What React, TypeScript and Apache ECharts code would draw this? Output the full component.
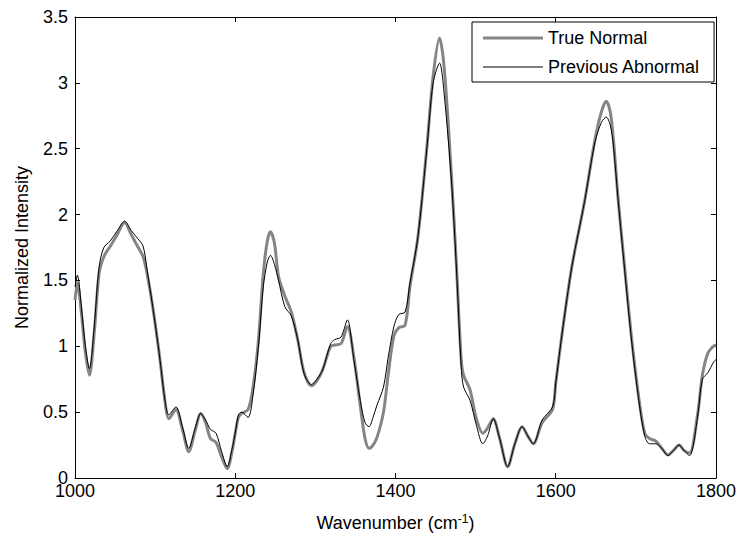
import React, { useEffect, useRef } from "react";
import * as echarts from "echarts";

const wavenumbers = [
  1000, 1003, 1008, 1013, 1018, 1024, 1030, 1036, 1044, 1052, 1062, 1070, 1078, 1085, 1090, 1097,
  1105, 1113, 1117, 1126, 1134, 1142, 1150, 1157, 1163, 1169, 1176, 1183, 1190, 1196, 1200, 1204,
  1208, 1216, 1222, 1229, 1235, 1240, 1244, 1249, 1254, 1262, 1270, 1278, 1286, 1295, 1302, 1309,
  1319, 1324, 1332, 1340, 1348, 1356, 1362, 1367, 1372, 1377, 1385, 1391, 1398, 1404, 1412, 1418,
  1428, 1439, 1447, 1455, 1461, 1470, 1476, 1482, 1485, 1493, 1501, 1509, 1515, 1522, 1530, 1540,
  1549, 1558, 1565, 1572, 1583, 1596, 1600, 1608, 1620, 1636, 1649, 1657, 1663, 1668, 1672, 1678,
  1686, 1694, 1703, 1711, 1717, 1725, 1733, 1740, 1747, 1754, 1760, 1767, 1777, 1783, 1790, 1797,
  1800,
];

const trueNormal = [
  1.35, 1.48, 1.25, 0.95, 0.78, 1.1, 1.55, 1.68, 1.76, 1.84, 1.94, 1.85, 1.76, 1.68, 1.55, 1.3,
  0.95, 0.55, 0.45, 0.52, 0.37, 0.2, 0.36, 0.49, 0.42, 0.3, 0.27, 0.16, 0.07, 0.2, 0.34, 0.46,
  0.49, 0.52, 0.68, 1.05, 1.55, 1.8, 1.87, 1.78, 1.53, 1.38, 1.26, 1.05, 0.8, 0.7, 0.74, 0.82,
  1.0, 1.01, 1.02, 1.15, 0.92, 0.55, 0.3, 0.225, 0.25, 0.31, 0.5, 0.79, 1.08, 1.14, 1.16, 1.45,
  1.83, 2.5, 3.05, 3.34, 3.1, 2.28, 1.62, 0.9, 0.78, 0.67, 0.45, 0.34, 0.38, 0.45, 0.3, 0.086,
  0.26, 0.39, 0.32, 0.26, 0.42, 0.52, 0.72, 1.1, 1.6, 2.1, 2.57, 2.78, 2.86, 2.78, 2.57, 2.11,
  1.6, 1.1, 0.64, 0.34, 0.3, 0.28, 0.22, 0.175, 0.21, 0.25, 0.21, 0.19, 0.48, 0.78, 0.95, 1.0,
  1.01,
];

const previousAbnormal = [
  1.45, 1.54, 1.3, 1.0, 0.83, 1.15, 1.6, 1.75, 1.8, 1.87, 1.95, 1.88, 1.82, 1.76, 1.58, 1.3,
  0.95, 0.56, 0.48, 0.54, 0.39, 0.225, 0.38, 0.49, 0.44, 0.37, 0.34, 0.2, 0.086, 0.22, 0.34, 0.48,
  0.5, 0.46, 0.62, 1.0, 1.45, 1.64, 1.69, 1.62, 1.5, 1.3, 1.23, 1.05, 0.79, 0.71, 0.75, 0.82,
  1.02, 1.05, 1.07, 1.2, 0.9, 0.59, 0.42, 0.39, 0.46, 0.555, 0.69, 0.92, 1.15, 1.24, 1.26, 1.48,
  1.83, 2.49, 3.0, 3.15, 2.9, 2.24, 1.6, 0.845, 0.69, 0.59, 0.4, 0.26, 0.32, 0.45, 0.3, 0.086,
  0.26, 0.39, 0.32, 0.26, 0.44, 0.54, 0.72, 1.1, 1.6, 2.1, 2.55, 2.7, 2.74, 2.68, 2.52, 2.1,
  1.58, 1.08, 0.62, 0.32, 0.26, 0.26, 0.22, 0.17, 0.21, 0.25, 0.21, 0.17, 0.46, 0.75, 0.8, 0.88,
  0.9,
];

const seriesNames = ["True Normal", "Previous Abnormal"];

const FONT = "'Liberation Sans', Arial, sans-serif";
const FS = 18;

export default function App() {
  const ref = useRef<HTMLDivElement>(null);

  useEffect(() => {
    if (!ref.current) return;
    const chart = echarts.init(ref.current, null, { renderer: "svg" });
    const pairs = (vals: number[]) => wavenumbers.map((w, i) => [w, vals[i]]);
    const axisCommon = {
      axisLine: { show: true, onZero: false, lineStyle: { color: "#000", width: 1 } },
      axisTick: { show: true, inside: true, length: 5, lineStyle: { color: "#000" } },
      splitLine: { show: false },
    };
    chart.setOption({
      animation: false,
      backgroundColor: "#fff",
      textStyle: { fontFamily: FONT },
      grid: { left: 75, right: 17, top: 17, bottom: 60, containLabel: false },
      legend: {
        data: [
          { name: seriesNames[0], icon: "path://M0,0H60V3H0Z" },
          { name: seriesNames[1], icon: "path://M0,0H60V1H0Z" },
        ],
        symbolKeepAspect: true,
        orient: "vertical",
        left: 472,
        top: 22,
        padding: [7, 14, 6, 11],
        itemWidth: 60,
        itemHeight: 20,
        itemGap: 11,
        borderColor: "#000",
        borderWidth: 1,
        borderRadius: 0,
        backgroundColor: "#fff",
        textStyle: { fontFamily: FONT, fontSize: FS, color: "#000" },
      },
      xAxis: [
        {
          type: "value",
          min: 1000,
          max: 1800,
          interval: 200,
          position: "bottom",
          ...axisCommon,
          axisLabel: {
            fontFamily: FONT,
            fontSize: FS,
            color: "#000",
            margin: 4,
            formatter: (v: number) => String(v),
          },
          name: "Wavenumber (cm{sup|-1})",
          nameLocation: "middle",
          nameGap: 35,
          nameTextStyle: {
            fontFamily: FONT,
            fontSize: FS,
            color: "#000",
            rich: {
              sup: { fontFamily: FONT, fontSize: 12, color: "#000", verticalAlign: "top", padding: [0, 0, 8, 0] },
            },
          },
        },
        {
          type: "value",
          min: 1000,
          max: 1800,
          interval: 200,
          position: "top",
          ...axisCommon,
          axisLabel: { show: false },
        },
      ],
      yAxis: [
        {
          type: "value",
          min: 0,
          max: 3.5,
          interval: 0.5,
          position: "left",
          ...axisCommon,
          axisLabel: { fontFamily: FONT, fontSize: FS, color: "#000", margin: 7 },
          name: "Normalized Intensity",
          nameLocation: "middle",
          nameGap: 44,
          nameTextStyle: { fontFamily: FONT, fontSize: FS, color: "#000" },
        },
        {
          type: "value",
          min: 0,
          max: 3.5,
          interval: 0.5,
          position: "right",
          ...axisCommon,
          axisLabel: { show: false },
        },
      ],
      series: [
        {
          name: seriesNames[0],
          type: "line",
          data: pairs(trueNormal),
          showSymbol: false,
          symbol: "none",
          smooth: 0.3,
          lineStyle: { color: "#858585", width: 3 },
          itemStyle: { color: "#858585" },
          z: 2,
        },
        {
          name: seriesNames[1],
          type: "line",
          data: pairs(previousAbnormal),
          showSymbol: false,
          symbol: "none",
          smooth: 0.3,
          lineStyle: { color: "#000", width: 1 },
          itemStyle: { color: "#000" },
          z: 3,
        },
      ],
    });
    return () => chart.dispose();
  }, []);

  return (
    <div
      ref={ref}
      style={{ position: "fixed", left: 0, top: 0, width: 739, height: 538, background: "#fff" }}
    />
  );
}
